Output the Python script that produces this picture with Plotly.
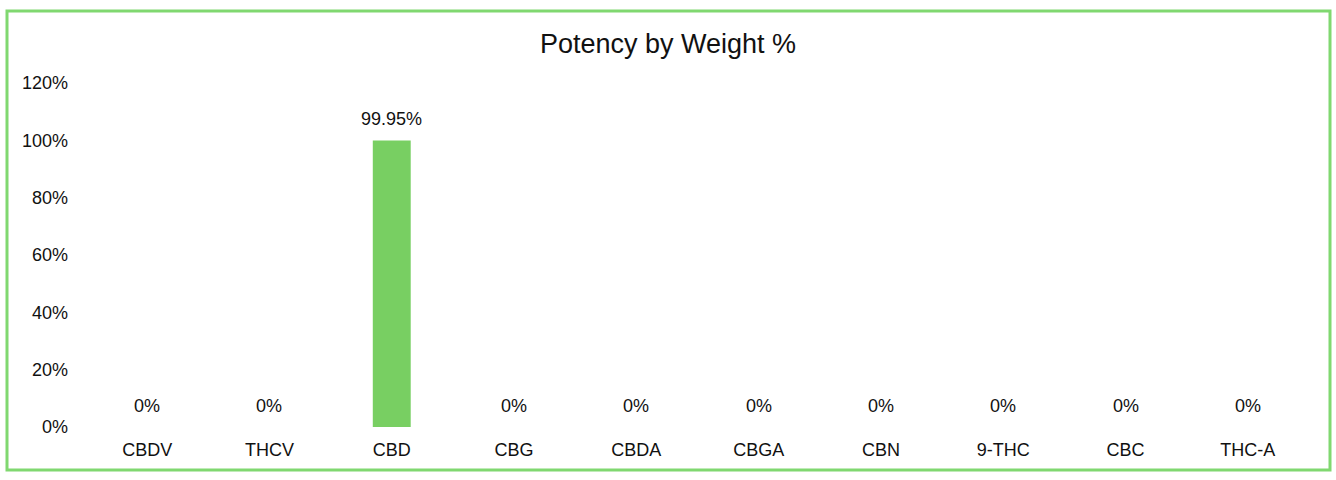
import plotly.graph_objects as go

categories = ["CBDV", "THCV", "CBD", "CBG", "CBDA", "CBGA", "CBN", "9-THC", "CBC", "THC-A"]
values = [0, 0, 99.95, 0, 0, 0, 0, 0, 0, 0]
y_ticks = [0, 20, 40, 60, 80, 100, 120]
y_labels = [f"{v}%" for v in y_ticks]

W, H = 1336, 480
L, R, T, B = 86, 27, 83, 53
pw = W - L - R
ph = H - T - B
FONT = "Liberation Sans, Arial, sans-serif"

fig = go.Figure(go.Bar(
    x=categories, y=values,
    marker=dict(color="#78cf62", line=dict(width=0)),
    width=0.31,
    hoverinfo="x+y",
))

for c, v in zip(categories, values):
    fig.add_annotation(x=c, y=v, xref="x", yref="y", text=f"{v:g}%", showarrow=False,
                       yanchor="bottom", yshift=9,
                       font=dict(family=FONT, size=18, color="#111"))

def px_x(p):
    return (p - L) / pw

def px_y(p):
    return (H - B - p) / ph

fig.update_layout(
    width=W, height=H,
    margin=dict(l=L, r=R, t=T, b=B),
    paper_bgcolor="white", plot_bgcolor="white",
    title=dict(text="Potency by Weight %", x=0.5, xanchor="center", y=1 - 44 / H, yanchor="middle",
               font=dict(family=FONT, size=27, color="#111")),
    font=dict(family=FONT, size=18, color="#111"),
    showlegend=False,
    xaxis=dict(showgrid=False, showline=False, zeroline=False, ticks="", ticklabelstandoff=10,
               tickfont=dict(size=18)),
    yaxis=dict(range=[0, 120], tickvals=y_ticks, ticktext=y_labels, showgrid=False, showline=False,
               zeroline=False, ticks="", ticklabelstandoff=17, tickfont=dict(size=18)),
    shapes=[dict(type="rect", xref="paper", yref="paper",
                 x0=px_x(7), x1=px_x(1330), y0=px_y(470), y1=px_y(11),
                 line=dict(color="#80d870", width=3), fillcolor="rgba(0,0,0,0)", layer="below")],
)

fig.write_html("out.html", config={"displayModeBar": False},
               post_script="document.body.style.margin='0px';document.body.style.overflow='hidden';")
